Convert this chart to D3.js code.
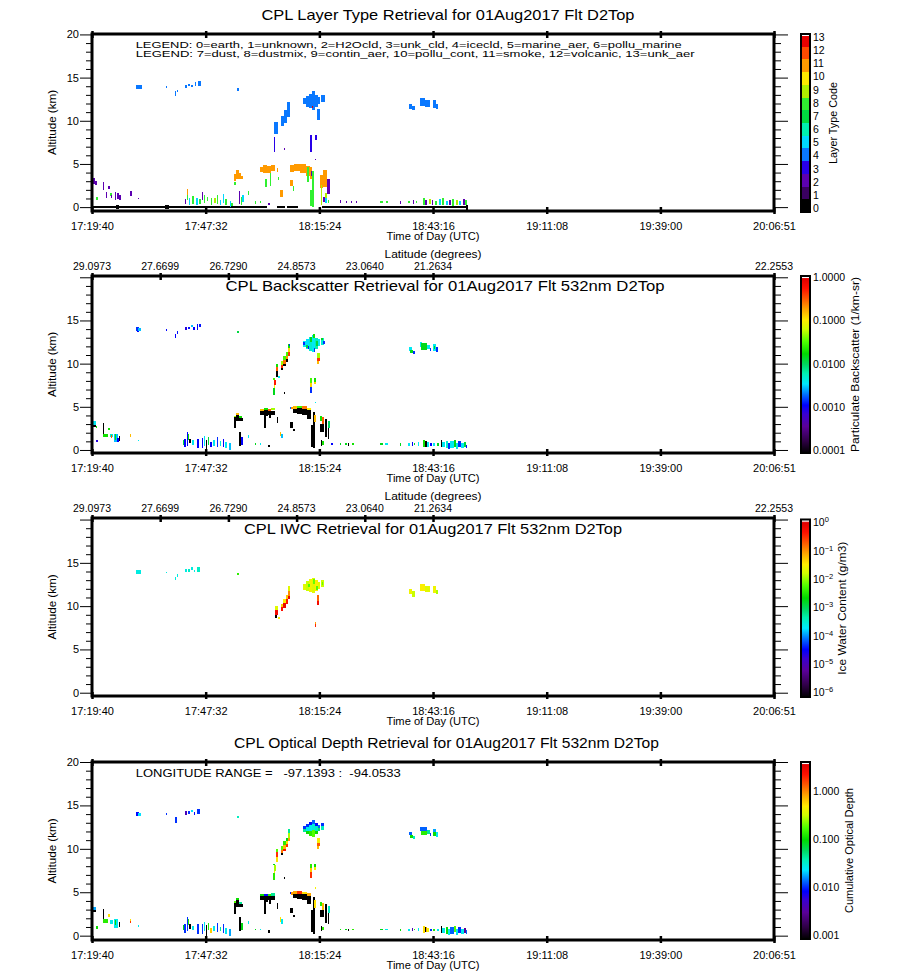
<!DOCTYPE html>
<html>
<head>
<meta charset="utf-8">
<script src="https://cdn.jsdelivr.net/npm/d3@7"></script>
<style>
body{margin:0;background:#fff}
text{font-family:"Liberation Sans",Arial,sans-serif;fill:#000}
</style>
</head>
<body>
<div id="chart"></div>
<script>
// times are minutes after 17:00 UTC, altitudes in km
var timeTickLabels = ["17:19:40","17:47:32","18:15:24","18:43:16","19:11:08","19:39:00","20:06:51"]
var latTickTimes = [19.67, 36.38, 53.10, 69.82, 86.54, 103.26, 186.85]
var latTickLabels = ["29.0973","27.6699","26.7290","24.8573","23.0640","21.2634","22.2553"]

var layerCodes = [0,1,2,3,4,5,6,7,8,9,10,11,12,13]
var layerCodeColors = ["#000000","#3a0060","#5c00b0","#2800e8","#0a78ff","#00d8ff","#00f0b0",
                       "#00dc40","#30f030","#b0f000","#ffe800","#ff9a00","#ff4a00","#e80000"]
var bscTicks = [0.0001,0.001,0.01,0.1,1]
var bscTickLabels = ["0.0001","0.0010","0.0100","0.1000","1.0000"]
var iwcTickExponents = [-6,-5,-4,-3,-2,-1,0]
var odTicks = [0.001,0.01,0.1,1]
var odTickLabels = ["0.001","0.010","0.100","1.000"]

// [t0, t1, base, top, layer type code]
var layerTypeCells = [
[19.67,62.50,-0.15,0.1,0],[64.94,66.98,-0.15,0.1,0],[67.39,70.23,-0.15,0.1,0],[75.97,111.84,-0.15,0.1,0],
[25.55,26.30,-0.25,0.3,0],[37.56,38.54,-0.25,0.3,0],[111.35,111.84,-0.35,0.3,0],
[19.67,20.40,2.7,3.4,2],[20.40,21.00,2.6,3.0,2],[20.65,20.89,0.8,1.2,8],[22.36,22.61,2.0,2.9,2],
[23.00,23.30,1.0,1.8,2],[23.60,23.80,2.1,2.4,2],[24.10,24.40,1.3,1.6,8],[24.30,24.50,1.0,1.4,2],
[25.20,25.50,0.8,1.8,2],[25.90,26.10,0.9,1.6,2],[26.30,26.50,0.8,1.4,2],[29.00,29.25,1.3,1.9,2],[30.90,31.10,0.9,1.1,2],
[30.45,31.90,13.7,14.2,4],[37.70,37.90,13.8,14.0,4],[40.00,40.20,12.9,13.4,4],[40.40,40.60,13.3,13.6,4],
[42.50,42.80,13.8,14.2,4],[43.20,43.50,14.0,14.3,4],[44.00,44.30,13.9,14.2,4],[44.90,45.20,14.0,14.5,4],
[45.60,46.40,14.0,14.6,4],[55.20,55.70,13.5,13.8,4],
[42.46,42.70,0.4,0.9,2],[42.90,43.20,1.4,2.1,11],[42.90,43.20,0.8,1.4,8],[43.40,43.60,0.3,1.0,5],
[44.30,44.60,0.4,1.3,8],[45.20,45.50,0.3,1.1,5],[45.90,46.10,0.4,0.9,8],[46.60,46.90,0.8,1.7,2],
[47.10,47.40,0.5,1.4,8],[47.80,48.10,0.7,1.2,8],[48.80,49.10,0.3,1.0,8],[49.60,49.90,0.5,1.1,9],
[50.30,50.60,0.4,1.4,8],[51.00,51.30,0.2,0.8,5],[51.70,52.00,0.5,1.5,5],[52.30,52.60,0.2,0.9,8],
[53.40,53.70,0.0,0.7,5],[53.80,54.10,0.1,0.5,8],[54.50,54.70,2.6,2.9,8],[55.70,56.00,0.4,1.9,2],
[56.10,56.40,0.3,1.2,8],[56.50,56.80,0.6,1.4,5],[57.90,58.20,1.4,1.9,8],[59.60,59.90,0.4,0.7,8],
[60.80,61.00,0.5,0.7,8],[62.90,63.10,0.2,0.5,2],
[54.48,55.00,3.0,3.8,11],[55.00,55.70,3.2,4.3,11],[55.70,56.20,3.3,3.9,11],[56.20,56.80,3.3,3.6,11],
[60.85,61.60,4.1,4.7,11],[61.60,62.60,3.9,4.9,11],[62.60,63.60,4.0,4.8,11],[63.60,64.60,4.2,4.9,11],
[62.10,62.30,2.3,3.3,8],[63.20,63.40,2.4,3.9,8],[65.20,65.40,3.1,3.5,8],[65.00,65.30,4.1,4.5,11],
[65.75,66.50,1.2,2.0,11],[68.20,68.90,2.4,3.1,11],[68.90,69.10,1.9,2.4,8],
[68.20,69.20,4.1,4.9,11],[69.20,70.60,4.2,5.0,11],[70.60,72.10,4.0,5.0,11],[72.10,73.10,3.6,4.8,11],
[73.10,73.60,3.2,4.6,11],[72.40,72.70,2.9,4.6,8],[73.70,74.00,0.0,4.2,8],[73.20,73.50,0.1,2.0,8],[73.30,73.70,3.6,4.2,2],
[75.56,76.30,2.2,3.7,11],[76.30,77.30,2.3,4.3,11],[77.30,77.90,1.5,3.2,2],[75.70,75.95,0.3,2.6,9],[76.80,77.00,0.7,1.6,9],
[64.30,65.30,8.5,9.9,4],[66.00,66.70,9.4,10.6,4],[66.70,67.50,9.8,11.3,4],[67.50,68.20,10.4,12.2,4],
[64.20,64.60,6.4,8.1,3],[66.70,66.85,6.6,6.9,2],
[71.40,72.10,11.9,12.6,4],[72.10,72.90,11.6,12.9,4],[72.90,73.60,11.5,13.1,4],[73.60,74.30,11.3,13.4,4],
[74.30,75.10,11.6,13.0,4],[75.10,75.60,12.0,12.8,4],[75.80,76.70,12.2,13.0,4],[74.80,75.50,10.1,11.4,4],
[73.50,73.70,11.5,11.7,13],[73.10,73.70,6.4,8.3,3],[74.30,74.70,7.8,8.3,3],[74.30,74.50,5.4,5.6,2],
[97.40,98.10,11.4,12.0,4],[98.10,98.90,11.2,11.7,4],[100.10,101.20,11.7,12.6,4],[101.20,102.50,11.6,12.4,4],
[103.30,104.00,11.5,12.4,4],[104.00,104.50,11.4,12.0,4],
[76.30,76.60,0.6,1.2,2],[76.90,77.20,0.5,1.0,5],[77.50,77.80,0.5,0.8,8],[80.40,80.70,0.5,0.8,2],
[81.90,82.20,0.5,0.7,2],[83.10,83.40,0.5,0.7,2],[84.30,84.60,0.5,0.7,2],[90.30,91.00,0.5,0.7,8],
[91.70,92.20,0.5,0.7,8],[95.10,95.40,0.4,0.7,2],[97.10,97.50,0.5,0.7,8],[98.30,98.60,0.4,0.8,2],
[99.00,99.40,0.5,0.7,8],[100.80,101.20,0.3,1.0,8],[101.40,101.70,0.3,0.8,2],[102.30,102.60,0.4,0.9,9],
[103.00,103.30,0.3,0.8,2],[103.80,104.30,0.2,0.7,8],[104.70,105.10,0.2,0.9,5],[105.50,106.00,0.3,1.0,8],
[106.40,106.90,0.2,0.7,5],[107.20,107.60,0.3,0.8,2],[108.00,108.50,0.1,0.9,8],[108.90,109.40,0.3,0.8,9],
[109.70,110.20,0.2,0.7,5],[110.50,111.00,0.2,0.9,2],[111.20,111.60,0.2,0.8,8]
]

// fully attenuated water cloud / dense aerosol cells, below both colour scales
var attenuatedCells = [
[19.67,20.60,2.7,2.9],[22.30,22.60,1.9,3.1],[26.20,26.40,1.0,1.6],[43.50,43.70,0.8,1.3],
[47.60,47.90,0.0,1.2],[55.80,56.10,0.5,2.1],[62.90,63.10,0.3,0.6],
[54.50,55.00,3.0,3.8],[55.00,55.70,3.3,4.1],[55.70,56.70,3.3,3.7],[54.50,54.70,2.5,3.0],
[60.85,61.80,4.1,4.55],[61.80,62.80,3.9,4.6],[62.80,64.50,4.1,4.55],[61.90,62.40,2.5,4.0],
[63.10,63.40,3.7,4.3],[65.00,65.30,3.1,3.8],
[68.90,70.00,4.3,4.8],[70.00,71.20,4.2,4.85],[71.20,72.40,4.1,4.75],[72.40,73.30,3.6,4.6],
[68.20,69.00,2.6,3.2],[69.00,69.30,2.2,2.4],[73.40,73.60,0.4,2.9],[73.90,74.20,0.2,4.4],
[75.56,76.60,2.1,3.0],[76.80,77.10,1.5,3.6],[77.40,77.80,1.3,2.6],[75.80,76.10,0.5,1.1],
[82.40,82.60,0.5,0.8],[66.70,66.90,6.5,6.7],[101.30,101.50,0.4,1.0],[105.20,105.50,0.3,1.1]
]

// [t0, t1, base, top, backscatter 1/km-sr]
var backscatterCells = [
[30.45,31.20,13.8,14.2,0.0015],[31.00,31.70,13.8,14.1,0.003],[30.80,31.00,13.7,13.8,0.0012],
[37.70,37.90,13.8,14.0,0.0012],[40.00,40.20,13.0,13.4,0.0012],[40.40,40.60,13.4,13.8,0.0013],
[42.50,42.80,13.9,14.3,0.0009],[43.20,43.40,14.0,14.2,0.0013],[44.00,44.30,14.3,14.5,0.003],
[44.50,44.80,13.9,14.3,0.0012],[45.40,45.70,13.9,14.6,0.0012],[46.00,46.30,14.2,14.6,0.0013],
[55.20,55.70,13.5,13.8,0.012],
[19.67,20.60,2.9,3.4,0.004],[20.60,21.00,2.6,2.8,0.02],[20.70,20.90,0.9,1.1,0.0009],
[22.30,23.50,1.5,1.9,0.02],[23.60,23.90,2.3,2.6,0.02],[24.10,24.80,1.5,1.8,0.005],[24.30,24.50,1.4,1.7,0.3],
[25.00,26.00,0.9,1.9,0.003],[25.30,25.50,1.2,1.8,0.02],[25.80,26.00,0.9,1.4,0.0012],
[28.90,29.20,1.5,1.9,0.15],[30.90,31.10,1.0,1.2,0.004],
[41.90,42.30,0.6,1.2,0.012],[42.30,42.60,0.3,1.3,0.0012],[42.90,43.10,0.5,2.1,0.0012],[43.10,43.30,1.2,1.9,0.02],
[44.30,44.60,0.6,1.1,0.004],[45.50,45.80,0.2,1.3,0.0012],[46.60,46.90,0.2,1.4,0.0012],[47.10,47.40,0.5,1.6,0.004],
[48.10,48.40,0.6,1.5,0.012],[48.60,48.90,0.3,0.9,0.0012],[49.30,49.80,0.5,1.1,0.004],[50.30,50.60,0.4,1.5,0.0015],
[51.00,51.40,0.5,1.0,0.005],[51.70,52.10,0.3,1.3,0.0012],[52.30,52.70,0.2,0.9,0.004],[53.20,53.80,0.0,0.8,0.003],
[56.30,56.60,0.6,1.5,0.0012],[57.90,58.10,1.4,1.7,0.004],[59.60,59.90,0.6,0.8,0.015],[60.80,61.00,0.6,0.8,0.004],
[55.00,55.70,4.1,4.3,0.15],[55.70,56.40,3.7,3.9,0.02],[54.50,55.00,3.8,3.95,0.05],
[60.85,61.80,4.55,4.8,0.15],[61.80,62.80,4.6,4.85,0.02],[62.80,63.60,4.55,4.8,0.3],[63.60,64.50,4.6,4.9,0.05],
[68.20,68.50,4.75,5.0,0.002],[68.50,68.70,4.7,5.0,0.2],[68.90,70.00,4.8,5.1,0.15],[70.00,71.20,4.85,5.1,0.03],
[71.20,72.40,4.75,5.05,0.25],[72.40,73.30,4.6,4.9,0.1],[74.20,74.40,3.2,4.1,0.15],
[75.56,76.00,3.4,3.9,0.02],[76.00,76.60,3.0,3.8,0.3],[77.40,78.10,2.6,3.4,0.01],[76.10,76.50,0.6,1.0,0.02],
[78.30,78.50,0.6,0.8,0.0012],[80.40,80.70,0.6,0.8,0.015],[81.70,82.20,0.6,0.8,0.015],[83.50,84.00,0.6,0.8,0.02],
[65.70,66.00,1.6,2.1,0.15],[66.00,66.30,1.4,1.9,0.003],[74.30,74.50,5.4,5.6,0.004],
[64.10,64.60,6.4,7.2,0.015],[64.20,64.60,7.2,7.5,0.1],[64.30,64.70,7.5,8.1,0.5],[64.10,64.50,8.1,8.3,0.03],
[64.80,65.30,9.6,10.0,0.02],[64.80,65.30,9.1,9.6,0.3],[64.80,65.20,8.5,9.1,0.00005],[65.30,65.50,8.3,8.6,0.004],
[66.00,66.60,9.9,10.3,0.05],[66.00,66.60,9.5,9.9,0.4],[66.00,66.60,9.3,9.5,0.00005],
[66.60,67.20,10.4,10.85,0.03],[66.60,67.20,9.95,10.4,0.25],[66.60,67.20,9.7,9.95,0.00005],
[67.20,67.70,10.9,11.3,0.03],[67.20,67.70,10.5,10.9,0.2],[67.20,67.70,10.2,10.5,0.00005],
[67.70,68.20,11.8,12.3,0.02],[67.70,68.20,11.3,11.8,0.12],[67.70,68.20,10.9,11.3,0.4],[67.90,68.10,12.0,12.3,0.0015],
[71.40,72.10,11.9,12.6,0.004],[72.10,72.90,11.7,12.9,0.0035],[72.90,73.60,11.5,13.1,0.005],[73.60,74.30,11.4,13.3,0.004],
[74.30,75.10,11.7,13.0,0.006],[75.10,75.60,12.0,12.8,0.004],[75.80,76.60,12.2,13.0,0.005],
[73.00,73.50,12.5,13.1,0.015],[73.80,74.30,13.0,13.4,0.02],[74.60,75.00,12.1,12.6,0.012],[75.90,76.30,12.7,13.0,0.015],
[72.20,72.50,11.8,12.2,0.012],[71.40,71.70,12.2,12.5,0.0015],[72.60,72.90,11.7,12.0,0.0013],[74.00,74.30,11.4,11.8,0.0015],
[76.30,76.60,12.3,12.6,0.0015],
[74.80,75.50,10.7,11.2,0.05],[74.80,75.50,10.3,10.7,0.4],[74.90,75.40,10.0,10.3,0.15],
[73.10,73.70,7.8,8.3,0.03],[73.10,73.70,7.3,7.8,0.12],[73.20,73.60,6.6,7.3,0.0015],[74.10,74.60,7.9,8.3,0.02],[74.10,74.60,7.6,7.9,0.12],
[97.40,98.10,11.5,11.9,0.004],[97.60,98.30,11.2,11.6,0.015],[98.30,98.90,11.1,11.5,0.0015],[100.10,100.60,11.9,12.5,0.004],
[100.40,101.80,11.6,12.4,0.015],[101.80,102.50,11.7,12.2,0.004],[102.50,102.80,11.5,11.8,0.0015],[103.30,104.00,11.5,12.3,0.004],
[103.50,103.80,11.7,12.1,0.015],[104.10,104.50,11.4,11.9,0.0015],
[90.30,91.00,0.6,0.8,0.015],[91.50,92.20,0.6,0.8,0.004],[95.10,95.40,0.5,0.8,0.015],[97.20,97.50,0.5,0.8,0.004],
[98.00,98.30,0.5,0.9,0.0012],[98.60,98.90,0.6,0.8,0.015],[99.50,99.80,0.5,0.9,0.004],[100.80,101.20,0.3,1.1,0.02],
[101.80,102.30,0.4,0.9,0.004],[102.50,102.90,0.5,0.8,0.0012],[103.30,103.80,0.5,0.8,0.004],[104.30,104.70,0.5,0.8,0.015],
[105.50,106.20,0.3,0.9,0.004],[106.40,107.00,0.2,1.0,0.005],[107.00,107.50,0.1,0.8,0.0015],[107.50,108.30,0.2,1.0,0.004],
[108.30,108.80,0.4,1.1,0.015],[108.80,109.50,0.1,0.8,0.0045],[109.50,110.00,0.3,1.0,0.0015],[110.00,110.80,0.2,0.8,0.004],
[110.80,111.30,0.3,0.9,0.012],[111.30,111.60,0.2,0.6,0.0013]
]

// [t0, t1, base, top, ice water content g/m3]
var iwcCells = [
[30.45,31.70,13.7,14.2,0.0003],[37.70,37.90,13.8,14.0,0.0003],[40.00,40.20,13.0,13.4,0.0003],[40.40,40.60,13.4,13.7,0.0003],
[42.50,42.80,13.9,14.3,0.0003],[43.20,43.50,14.0,14.3,0.0004],[44.00,44.30,14.2,14.5,0.0003],[44.60,44.90,13.9,14.2,0.0003],
[45.50,46.20,14.0,14.5,0.0004],[55.20,55.70,13.6,13.8,0.004],
[64.50,65.30,9.6,10.0,0.02],[64.50,65.30,9.0,9.6,0.5],[64.50,65.00,8.6,9.0,0.0000001],[65.30,65.50,8.5,8.7,0.03],
[66.00,66.60,9.9,10.3,0.05],[66.00,66.60,9.4,9.9,0.4],[66.60,67.20,10.4,10.8,0.03],[66.60,67.20,9.8,10.4,0.6],
[67.20,67.70,10.8,11.3,0.05],[67.20,67.70,10.3,10.8,0.4],[67.70,68.20,11.8,12.3,0.02],[67.70,68.20,11.2,11.8,0.1],
[67.70,68.20,10.8,11.2,0.6],
[71.40,72.10,11.9,12.6,0.02],[72.10,72.90,11.7,12.9,0.015],[72.90,73.60,11.6,13.1,0.025],[73.60,74.30,11.5,13.3,0.02],
[74.30,75.10,11.7,13.0,0.03],[75.10,75.60,12.0,12.8,0.02],[75.80,76.60,12.2,13.0,0.015],
[72.60,73.00,12.2,12.6,0.006],[73.90,74.20,12.6,13.1,0.007],[74.60,74.90,11.9,12.3,0.006],[76.00,76.30,12.4,12.8,0.007],
[74.90,75.40,10.6,11.3,0.15],[74.90,75.40,10.1,10.6,0.5],[74.30,74.60,7.9,8.2,0.08],[74.30,74.60,7.6,7.9,0.3],
[97.40,98.10,11.4,12.0,0.025],[98.10,98.90,11.1,11.7,0.015],[100.10,101.20,11.7,12.5,0.03],[101.20,102.50,11.6,12.3,0.02],
[103.30,104.00,11.5,12.3,0.025],[104.00,104.50,11.4,11.9,0.012]
]

// [t0, t1, base, top, cumulative optical depth]
var opticalDepthCells = [
[30.45,31.20,13.8,14.2,0.01],[31.00,31.70,13.8,14.1,0.026],[37.70,37.90,13.9,14.1,0.012],[40.00,40.50,13.0,13.7,0.012],
[42.50,42.80,13.9,14.3,0.005],[43.20,43.50,14.0,14.3,0.012],[44.00,44.30,14.2,14.5,0.026],[44.60,44.90,13.9,14.2,0.01],
[45.50,46.20,14.0,14.6,0.012],[55.20,55.70,13.5,13.8,0.04],
[19.67,20.60,2.9,3.3,0.02],[20.65,20.90,0.8,1.1,0.12],[22.40,23.50,1.5,1.9,0.15],[23.60,23.90,2.2,2.5,0.6],
[24.10,24.80,1.4,1.8,0.03],[25.00,26.00,0.9,1.9,0.03],[25.30,25.50,1.2,1.8,0.12],[28.90,29.20,1.7,1.9,0.6],
[28.90,29.20,1.5,1.7,2.0],[30.90,31.10,1.0,1.2,0.03],
[41.90,42.30,0.6,1.2,0.1],[42.30,42.60,0.3,1.3,0.012],[42.90,43.10,0.5,2.1,0.012],[43.10,43.30,1.2,1.9,0.15],
[44.30,44.60,0.6,1.1,0.03],[45.50,45.80,0.2,1.3,0.012],[46.60,46.90,0.2,1.4,0.012],[47.10,47.40,0.5,1.6,0.03],
[48.10,48.40,0.6,1.5,0.15],[48.60,48.90,0.3,0.9,0.7],[49.30,49.80,0.5,1.1,0.03],[50.30,50.60,0.4,1.5,0.012],
[51.00,51.40,0.5,1.0,0.05],[51.70,52.10,0.3,1.3,0.012],[52.30,52.70,0.2,0.9,0.03],[53.20,53.80,0.0,0.8,0.02],
[56.30,56.60,0.6,1.5,0.1],[57.90,58.10,1.4,1.7,0.03],[59.60,59.90,0.6,0.8,0.1],[60.80,61.00,0.6,0.8,0.03],
[55.00,55.70,4.1,4.3,0.12],[55.70,56.40,3.7,3.9,0.05],[54.50,55.00,3.8,3.95,0.2],
[60.85,61.80,4.55,4.8,0.12],[61.80,62.80,4.6,4.85,0.01],[62.80,63.60,4.55,4.8,0.15],[63.60,64.50,4.6,4.9,0.05],
[68.20,68.50,4.75,5.0,0.01],[68.50,68.70,4.7,5.0,1.0],[68.90,70.00,4.8,5.1,0.9],[70.00,71.20,4.85,5.1,2.0],
[71.20,72.40,4.75,5.05,0.6],[72.40,73.30,4.6,4.9,0.9],[74.20,74.40,3.2,4.1,0.6],
[75.56,76.00,3.4,3.9,0.15],[76.00,76.60,3.0,3.8,0.8],[77.40,78.10,2.6,3.4,0.04],[76.10,76.50,0.6,1.0,0.15],
[80.40,80.70,0.6,0.8,0.12],[81.70,82.20,0.6,0.8,0.1],[83.50,84.00,0.6,0.8,0.15],
[65.70,66.00,1.6,2.1,0.6],[66.00,66.30,1.4,1.9,0.03],[74.30,74.50,5.4,5.6,0.5],
[64.10,64.60,6.4,7.2,0.15],[64.20,64.60,7.2,7.5,0.5],[64.30,64.70,7.5,8.1,0.3],[64.10,64.50,8.1,8.3,0.1],
[64.80,65.30,9.6,10.0,0.2],[64.80,65.30,9.1,9.6,2.0],[64.80,65.20,8.5,9.1,0.6],
[66.00,66.60,9.9,10.3,0.2],[66.00,66.60,9.5,9.9,1.2],[66.00,66.60,9.3,9.5,0.0005],
[66.60,67.20,10.4,10.85,0.15],[66.60,67.20,9.95,10.4,0.8],[66.60,67.20,9.7,9.95,2.5],
[67.20,67.70,10.9,11.3,0.1],[67.20,67.70,10.5,10.9,0.6],[67.20,67.70,10.2,10.5,2.0],
[67.70,68.20,11.8,12.3,0.05],[67.70,68.20,11.3,11.8,0.3],[67.70,68.20,10.9,11.3,1.0],
[71.40,72.10,12.3,12.6,0.012],[71.40,72.10,11.9,12.3,0.05],
[72.10,72.90,12.5,12.9,0.012],[72.10,72.90,12.0,12.5,0.03],[72.10,72.90,11.7,12.0,0.12],
[72.90,73.60,12.7,13.1,0.01],[72.90,73.60,12.1,12.7,0.03],[72.90,73.60,11.5,12.1,0.15],
[73.60,74.30,12.9,13.3,0.015],[73.60,74.30,12.2,12.9,0.035],[73.60,74.30,11.4,12.2,0.2],
[74.30,75.10,12.6,13.0,0.01],[74.30,75.10,12.1,12.6,0.04],[74.30,75.10,11.7,12.1,0.12],
[75.10,75.60,12.4,12.8,0.015],[75.10,75.60,12.0,12.4,0.06],[75.80,76.60,12.6,13.0,0.012],[75.80,76.60,12.2,12.6,0.04],
[74.80,75.50,10.7,11.2,0.5],[74.80,75.50,10.3,10.7,1.5],[74.90,75.40,10.0,10.3,0.8],
[73.10,73.70,7.8,8.3,0.15],[73.10,73.70,7.3,7.8,0.7],[73.20,73.60,6.6,7.3,2.0],[74.10,74.60,7.9,8.3,0.12],[74.10,74.60,7.6,7.9,0.5],
[97.40,98.10,11.6,11.9,0.015],[97.60,98.30,11.2,11.6,0.12],[98.30,98.90,11.1,11.5,0.04],[100.10,101.80,12.1,12.5,0.015],
[100.40,101.80,11.6,12.1,0.15],[101.80,102.50,11.7,12.2,0.05],[102.50,102.80,11.5,11.8,0.012],[103.30,104.00,11.9,12.3,0.02],
[103.30,104.00,11.5,11.9,0.12],[104.10,104.50,11.4,11.9,0.03],
[90.30,91.00,0.6,0.8,0.1],[91.50,92.20,0.6,0.8,0.03],[95.10,95.40,0.5,0.8,0.12],[97.20,97.50,0.5,0.8,0.03],
[98.00,98.30,0.5,0.9,0.005],[98.60,98.90,0.6,0.8,0.15],[99.50,99.80,0.5,0.9,0.03],[100.80,101.20,0.3,1.1,0.6],
[101.50,101.70,0.4,1.0,0.9],[101.80,102.30,0.4,0.9,0.5],[102.50,102.90,0.5,0.8,0.012],[103.30,103.80,0.5,0.8,0.15],
[104.30,104.70,0.5,0.8,0.03],[105.50,106.20,0.3,0.9,0.03],[106.40,107.00,0.2,1.0,0.12],[107.00,107.50,0.1,0.8,0.03],
[107.50,108.30,0.2,1.0,0.015],[108.30,108.80,0.4,1.1,0.2],[108.80,109.50,0.1,0.8,0.03],[109.50,110.00,0.3,1.0,0.012],
[110.00,110.80,0.2,0.8,0.03],[110.80,111.30,0.3,0.9,0.0035],[111.30,111.60,0.2,0.6,0.015]
]

// IDL style rainbow + white colour table
var rainbowStops = [[0,"#000000"],[0.07,"#300048"],[0.15,"#5a0098"],[0.22,"#3a00d0"],[0.27,"#0000ff"],
  [0.33,"#0070ff"],[0.39,"#00e8ff"],[0.45,"#00f0b0"],[0.50,"#00d860"],[0.56,"#00d800"],[0.63,"#50ff00"],
  [0.70,"#d0ff00"],[0.75,"#ffee00"],[0.81,"#ffa800"],[0.87,"#ff5a00"],[0.93,"#ff1000"],[0.985,"#e00000"],[1,"#ffffff"]]
var rainbow = d3.scaleLinear().domain(rainbowStops.map(function(s){return s[0]}))
  .range(rainbowStops.map(function(s){return s[1]})).clamp(true)

function toMinutes(s){ var p = s.split(":").map(Number); return (p[0]-17)*60 + p[1] + p[2]/60 }
var timeTicks = timeTickLabels.map(toMinutes)

var svg = d3.select("#chart").append("svg").attr("width",900).attr("height",971)
var x = d3.scaleLinear().domain([timeTicks[0], timeTicks[timeTicks.length-1]]).range([92,774])

var panels = [
 {title:"CPL Layer Type Retrieval for 01Aug2017 Flt D2Top", tx:448, ty:20, tlen:373, top:34, bottom:211,
  z:[-0.45,20.05], altLabels:[0,5,10,15,20], topAxis:"time",
  bar:{kind:"code", top:34, bottom:212, title:"Layer Type Code", cx:833, len:82}},
 {title:"CPL Backscatter Retrieval for 01Aug2017 Flt 532nm D2Top", tx:445, ty:291, tlen:439, top:276, bottom:453,
  z:[-0.35,20.15], altLabels:[0,5,10,15], topAxis:"lat",
  bar:{kind:"log", top:276, bottom:453, domain:[1e-4,1], ticks:bscTicks, labels:bscTickLabels, labelRange:[450.7,277],
       title:"Particulate Backscatter (1/km-sr)", cx:855, len:175}},
 {title:"CPL IWC Retrieval for 01Aug2017 Flt 532nm D2Top", tx:433, ty:534, tlen:378, top:518, bottom:696,
  z:[-0.38,20.18], altLabels:[0,5,10,15], topAxis:"lat",
  bar:{kind:"log", top:519.5, bottom:697, domain:[1e-6,1], ticks:iwcTickExponents.map(function(e){return Math.pow(10,e)}),
       exps:iwcTickExponents, labelRange:[692.7,522.7], title:"Ice Water Content (g/m3)", cx:842, len:133}},
 {title:"CPL Optical Depth Retrieval for 01Aug2017 Flt 532nm D2Top", tx:446.5, ty:748, tlen:425, top:762, bottom:940,
  z:[-0.5,20.0], altLabels:[0,5,10,15,20], topAxis:"time",
  bar:{kind:"log", top:762, bottom:939, domain:[1e-3,4.47], ticks:odTicks, labels:odTickLabels, labelRange:[935,791.7],
       labelDomain:[1e-3,1], title:"Cumulative Optical Depth", cx:849, len:125}}
]

var bscScale = d3.scaleLog().domain(panels[1].bar.domain).range([0,1]).clamp(true)
var iwcScale = d3.scaleLog().domain(panels[2].bar.domain).range([0,1]).clamp(true)
var odScale = d3.scaleLog().domain(panels[3].bar.domain).range([0,1]).clamp(true)

panels[0].layers = [{cells:layerTypeCells, color:function(d){return layerCodeColors[d[4]]}}]
panels[1].layers = [{cells:attenuatedCells, color:function(){return rainbow(0)}},
                    {cells:backscatterCells, color:function(d){return rainbow(bscScale(d[4]))}}]
panels[2].layers = [{cells:iwcCells, color:function(d){return rainbow(iwcScale(d[4]))}}]
panels[3].layers = [{cells:attenuatedCells, color:function(){return rainbow(0)}},
                    {cells:opticalDepthCells, color:function(d){return rainbow(odScale(d[4]))}}]

var minorAlt = d3.range(0,21).filter(function(v){return v % 5 !== 0})

panels.forEach(function(p){
  var g = svg.append("g")
  var y = d3.scaleLinear().domain(p.z).range([p.bottom, p.top])

  p.layers.forEach(function(layer){
    g.append("g").selectAll("rect").data(layer.cells).enter().append("rect")
      .attr("x", function(d){return x(d[0])})
      .attr("width", function(d){return Math.max(1.5, x(d[1]) - x(d[0]))})
      .attr("y", function(d){return y(d[3])})
      .attr("height", function(d){return Math.max(1.5, y(d[2]) - y(d[3]))})
      .attr("fill", layer.color)
      .attr("shape-rendering","crispEdges")
  })

  // altitude axes, ticks outside the frame
  var left = g.append("g").attr("transform","translate(92,0)")
    .call(d3.axisLeft(y).tickValues([0,5,10,15,20]).tickSize(12).tickPadding(1)
      .tickFormat(function(d){return p.altLabels.indexOf(d) >= 0 ? d : ""}))
  g.append("g").attr("transform","translate(92,0)")
    .call(d3.axisLeft(y).tickValues(minorAlt).tickSize(6).tickFormat(""))
  g.append("g").attr("transform","translate(774,0)")
    .call(d3.axisRight(y).tickValues([0,5,10,15,20]).tickSize(14).tickFormat(""))
  g.append("g").attr("transform","translate(774,0)")
    .call(d3.axisRight(y).tickValues(minorAlt).tickSize(7).tickFormat(""))
  left.selectAll("text").attr("font-size",11).attr("font-family","Liberation Sans, Arial, sans-serif")

  // time axis
  var bottom = g.append("g").attr("transform","translate(0," + (p.bottom - 4) + ")")
    .call(d3.axisBottom(x).tickValues(timeTicks).tickSize(7).tickPadding(8)
      .tickFormat(function(d,i){return timeTickLabels[i]}))
  bottom.selectAll("line").attr("stroke-width",2.5)
  bottom.selectAll("text").attr("font-size",11).attr("font-family","Liberation Sans, Arial, sans-serif")

  var topTicks = p.topAxis === "time" ? timeTicks : latTickTimes
  var topAxis = g.append("g").attr("transform","translate(0," + (p.top + 4) + ")")
    .call(d3.axisTop(x).tickValues(topTicks).tickSize(7).tickFormat(""))
  topAxis.selectAll("line").attr("stroke-width",2.5)
  svg.selectAll(".domain").remove()

  if (p.topAxis === "lat") {
    g.selectAll(".lat").data(latTickTimes).enter().append("text")
      .attr("x", function(d){return x(d)}).attr("y", p.top - 6.5)
      .attr("text-anchor","middle").attr("font-size",10.5)
      .text(function(d,i){return latTickLabels[i]})
    g.append("text").attr("x",433).attr("y",p.top - 18).attr("text-anchor","middle")
      .attr("font-size",10).attr("textLength",97).attr("lengthAdjust","spacingAndGlyphs")
      .text("Latitude (degrees)")
  }

  // frame
  g.append("rect").attr("x",92).attr("y",p.top).attr("width",682).attr("height",p.bottom - p.top)
    .attr("fill","none").attr("stroke","#000").attr("stroke-width",3)

  g.append("text").attr("x",p.tx).attr("y",p.ty).attr("text-anchor","middle").attr("font-size",14.5)
    .attr("textLength",p.tlen).attr("lengthAdjust","spacingAndGlyphs").text(p.title)
  g.append("text").attr("x",433).attr("y",p.bottom + 29).attr("text-anchor","middle").attr("font-size",11)
    .attr("textLength",93).attr("lengthAdjust","spacingAndGlyphs").text("Time of Day (UTC)")
  g.append("text").attr("transform","translate(56," + ((p.top + p.bottom)/2) + ") rotate(-90)")
    .attr("text-anchor","middle").attr("font-size",11).attr("textLength",65).attr("lengthAdjust","spacingAndGlyphs")
    .text("Altitude (km)")

  drawBar(p.bar)
})

function drawBar(b) {
  var g = svg.append("g")
  var bx = 801, bw = 9
  if (b.kind === "code") {
    var cy = d3.scaleLinear().domain([0, layerCodes.length]).range([b.bottom, b.top])
    g.selectAll("rect").data(layerCodes).enter().append("rect")
      .attr("x",bx).attr("width",bw)
      .attr("y",function(d){return cy(d+1)}).attr("height",function(d){return cy(d) - cy(d+1)})
      .attr("fill",function(d){return layerCodeColors[d]}).attr("shape-rendering","crispEdges")
    var ly = d3.scaleLinear().domain([0,13]).range([208.3,37.3])
    g.selectAll("text").data(layerCodes).enter().append("text")
      .attr("x",813).attr("y",function(d){return ly(d)}).attr("dy","0.35em").attr("font-size",10.5)
      .text(function(d){return d})
  } else {
    var strips = d3.range(b.top, b.bottom, 1)
    g.selectAll("rect").data(strips).enter().append("rect")
      .attr("x",bx).attr("width",bw).attr("y",function(d){return d}).attr("height",1.2)
      .attr("fill",function(d){return rainbow((b.bottom - d - 0.5)/(b.bottom - b.top))})
      .attr("shape-rendering","crispEdges")
    var ly = d3.scaleLog().domain(b.labelDomain || b.domain).range(b.labelRange)
    b.ticks.forEach(function(v,i){
      var t = g.append("text").attr("x",813).attr("y",ly(v)).attr("dy","0.35em").attr("font-size",10.5)
      if (b.exps) {
        t.append("tspan").text("10")
        t.append("tspan").attr("dy",-4).attr("font-size",7.5).text(b.exps[i] === 0 ? "0" : "\u2212" + Math.abs(b.exps[i]))
      } else {
        t.text(b.labels[i])
      }
    })
  }
  g.append("rect").attr("x",bx).attr("y",b.top).attr("width",bw).attr("height",2).attr("fill","#fff")
  g.append("rect").attr("x",bx).attr("y",b.top).attr("width",bw).attr("height",b.bottom - b.top)
    .attr("fill","none").attr("stroke","#000").attr("stroke-width",2)
  g.append("text").attr("transform","translate(" + b.cx + "," + ((b.top + b.bottom)/2) + ") rotate(-90)")
    .attr("text-anchor","middle").attr("dy","0.35em").attr("font-size",11)
    .attr("textLength",b.len).attr("lengthAdjust","spacingAndGlyphs").text(b.title)
}

// panel annotations
svg.append("text").attr("x",135.7).attr("y",47.8).attr("font-size",9.5).attr("textLength",546)
  .attr("lengthAdjust","spacingAndGlyphs")
  .text("LEGEND: 0=earth, 1=unknown, 2=H2Ocld, 3=unk_cld, 4=icecld, 5=marine_aer, 6=pollu_marine")
svg.append("text").attr("x",135.7).attr("y",57).attr("font-size",9.5).attr("textLength",559)
  .attr("lengthAdjust","spacingAndGlyphs")
  .text("LEGEND: 7=dust, 8=dustmix, 9=contin_aer, 10=pollu_cont, 11=smoke, 12=volcanic, 13=unk_aer")
svg.append("text").attr("x",135.7).attr("y",777).attr("font-size",11).attr("textLength",265)
  .attr("lengthAdjust","spacingAndGlyphs").style("white-space","pre")
  .text("LONGITUDE RANGE =   -97.1393 :  -94.0533")
</script>
</body>
</html>
